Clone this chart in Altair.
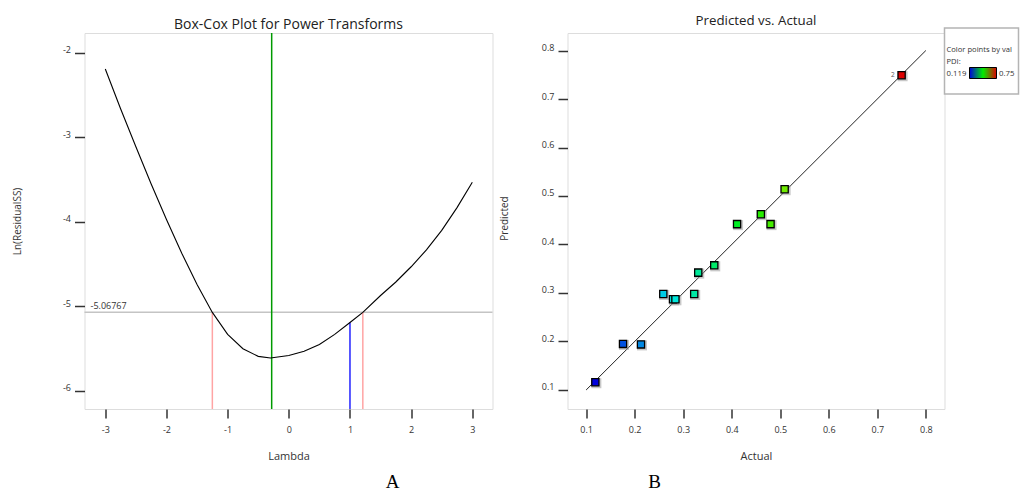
import altair as alt
import pandas as pd

FONT = "Open Sans"

# ---------- Panel A: Box-Cox ----------
lam = [-3.0, -2.75, -2.5, -2.25, -2.0, -1.75, -1.5, -1.25, -1.0, -0.75, -0.5, -0.3,
       0.0, 0.25, 0.5, 0.75, 1.0, 1.21, 1.5, 1.75, 2.0, 2.25, 2.5, 2.75, 3.0]
ln_ss = [-2.19, -2.66, -3.11, -3.55, -3.97, -4.37, -4.74, -5.07, -5.33, -5.50, -5.59, -5.61,
         -5.58, -5.53, -5.45, -5.33, -5.19, -5.07, -4.87, -4.71, -4.53, -4.33, -4.10, -3.83, -3.53]
ci_level = -5.06767
lambda_best = -0.28
ci_lambdas = [-1.25, 1.21]
lambda_current = 1.0
ln_current = -5.19
a_xdomain = [-3.34, 3.33]
a_ydomain = [-6.213, -1.764]
a_xticks = [-3, -2, -1, 0, 1, 2, 3]
a_yticks = [-6, -5, -4, -3, -2]

# ---------- Panel B: Predicted vs Actual ----------
actual = [0.119, 0.176, 0.213, 0.259, 0.279, 0.284, 0.3227, 0.331, 0.364, 0.411, 0.460, 0.480, 0.509, 0.750]
predicted = [0.116, 0.195, 0.194, 0.298, 0.287, 0.287, 0.298, 0.342, 0.357, 0.442, 0.4625, 0.442, 0.514, 0.749]
point_labels = ["", "", "", "", "", "", "", "", "", "", "", "", "", "2"]
diag = [0.1, 0.8]
b_domain_x = [0.0616, 0.8384]
b_domain_y = [0.0608, 0.8361]
b_ticks = [0.1, 0.2, 0.3, 0.4, 0.5, 0.6, 0.7, 0.8]
pdi_min, pdi_max = 0.119, 0.75
grad_colors = ["#0000dd", "#00ee00", "#dd0000"]
legend_lines = ["Color points by value of", "PDI:"]
panel_letters = ["A", "B"]
titles = ["Box-Cox Plot for Power Transforms", "Predicted vs. Actual"]

WA, HA = 408, 376
WB, HB = 377, 376

def xaxis(values, title, titleX):
    return alt.Axis(values=values, tickSize=9, tickWidth=1.5, tickColor="#333", domain=False, grid=False,
                    labelFont=FONT, labelFontSize=9, labelColor="#333", labelPadding=7,
                    labelExpr="'' + datum.value",
                    title=title, titleFont=FONT, titleFontSize=11, titleFontWeight="normal", titleColor="#333",
                    titleX=titleX, titleY=47, titleBaseline="middle", titleAlign="center")

def yaxis(values, title, titleX, titleY, ticksize):
    return alt.Axis(values=values, tickSize=ticksize, tickWidth=1.5, tickColor="#333", domain=False, grid=False,
                    labelFont=FONT, labelFontSize=9, labelColor="#333", labelPadding=4,
                    labelBaseline="alphabetic", labelExpr="'' + datum.value",
                    title=title, titleFont=FONT, titleFontSize=10, titleFontWeight="normal", titleColor="#333",
                    titleX=titleX, titleY=titleY, titleAngle=270, titleBaseline="middle", titleAlign="center")

def text_layer(values, x, y, size, font=FONT, color="#222", align="center", **kw):
    return alt.Chart(pd.DataFrame({"t": values})).mark_text(
        font=font, fontSize=size, baseline="alphabetic", align=align, color=color, **kw).encode(
        text="t:N", x=alt.value(x), y=alt.value(y))

ax_a_x = xaxis(a_xticks, "Lambda", WA / 2)
ax_a_y = yaxis(a_yticks, "Ln(ResidualSS)", -67, HA / 2, 10)
sx_a = alt.Scale(domain=a_xdomain, nice=False, zero=False)
sy_a = alt.Scale(domain=a_ydomain, nice=False, zero=False)

def XA(f):
    return alt.X(f, type="quantitative", scale=sx_a, axis=ax_a_x)

def YA(f):
    return alt.Y(f, type="quantitative", scale=sy_a, axis=ax_a_y)

curve_df = pd.DataFrame({"x": lam, "y": ln_ss})
hline_df = pd.DataFrame({"y": [ci_level], "label": [str(ci_level)]})
green_df = pd.DataFrame({"x": [lambda_best]})
pink_df = pd.DataFrame({"x": ci_lambdas, "y": [ci_level] * len(ci_lambdas), "y2": [a_ydomain[0]] * len(ci_lambdas)})
blue_df = pd.DataFrame({"x": [lambda_current], "y": [ln_current], "y2": [a_ydomain[0]]})

hline = alt.Chart(hline_df).mark_rule(color="#c4c4c4", strokeWidth=1.5).encode(y=YA("y"))
hlabel = alt.Chart(hline_df).mark_text(align="left", baseline="alphabetic", dx=0, dy=-3, font=FONT,
                                       fontSize=9, color="#333").encode(
    x=alt.value(6), y=YA("y"), text="label:N")
pink = alt.Chart(pink_df).mark_rule(color="#ffa4a4", strokeWidth=1.5).encode(x=XA("x"), y=YA("y"), y2="y2")
blue = alt.Chart(blue_df).mark_rule(color="#0000ff", strokeWidth=1.3).encode(x=XA("x"), y=YA("y"), y2="y2")
green = alt.Chart(green_df).mark_rule(color="#009a00", strokeWidth=1.5).encode(x=XA("x"))
curve = alt.Chart(curve_df).mark_line(color="black", strokeWidth=1.1).encode(x=XA("x"), y=YA("y"))
letter_a = text_layer([panel_letters[0]], 308, 455, 19, font="Liberation Serif", color="black")
title_a = text_layer([titles[0]], WA / 2, -4.5, 14)

panel_a = alt.layer(hline, pink, blue, green, curve, hlabel, letter_a, title_a).properties(width=WA, height=HA)

# ---------- Panel B ----------
ax_b_x = xaxis(b_ticks, "Actual", WB / 2)
ax_b_y = yaxis(b_ticks, "Predicted", -63, HB / 2 - 3, 9.5)
sx_b = alt.Scale(domain=b_domain_x, nice=False, zero=False)
sy_b = alt.Scale(domain=b_domain_y, nice=False, zero=False)

def XB(f):
    return alt.X(f, type="quantitative", scale=sx_b, axis=ax_b_x)

def YB(f):
    return alt.Y(f, type="quantitative", scale=sy_b, axis=ax_b_y)

pts_df = pd.DataFrame({"x": actual, "y": predicted, "label": point_labels})
diag_df = pd.DataFrame({"x": diag, "y": diag})
color_scale = alt.Scale(domain=[pdi_min, (pdi_min + pdi_max) / 2, pdi_max], range=grad_colors, interpolate="hsl")

diag_line = alt.Chart(diag_df).mark_line(color="#222", strokeWidth=1).encode(x=XB("x"), y=YB("y"))
shadow = alt.Chart(pts_df).mark_square(size=100, color="#9a9a9a", opacity=0.55, xOffset=1, yOffset=1).encode(
    x=XB("x"), y=YB("y"))
squares = alt.Chart(pts_df).mark_square(size=52, filled=True, stroke="black", strokeWidth=1.3, opacity=1).encode(
    x=XB("x"), y=YB("y"), color=alt.Color("x:Q", scale=color_scale, legend=None))
plabels = alt.Chart(pts_df).mark_text(align="right", baseline="middle", dx=-7, font=FONT, fontSize=6.5,
                                      color="#555").encode(x=XB("x"), y=YB("y"), text="label:N")

BOXW = 74
leg_box = alt.Chart(pd.DataFrame({"t": [0]})).mark_rect(fill="white", stroke="#b4b4b4", strokeWidth=1.5).encode(
    x=alt.value(WB), x2=alt.value(WB + BOXW), y=alt.value(-5), y2=alt.value(61))
leg_l1 = text_layer([legend_lines[0]], WB + 2, 18.5, 7.6, color="#333", align="left", limit=BOXW - 3, ellipsis=" ")
leg_l2 = text_layer([legend_lines[1]], WB + 2, 30.5, 7.6, color="#333", align="left")
leg_min = text_layer([str(pdi_min)], WB + 2, 42.5, 7.8, color="#333", align="left")
leg_max = text_layer([str(pdi_max)], WB + 54.5, 42.5, 7.8, color="#333", align="left")
gradient = alt.LinearGradient(gradient="linear", x1=0, x2=1, y1=0, y2=0,
                              stops=[alt.GradientStop(color=grad_colors[0], offset=0),
                                     alt.GradientStop(color=grad_colors[1], offset=0.5),
                                     alt.GradientStop(color=grad_colors[2], offset=1)])
leg_bar = alt.Chart(pd.DataFrame({"t": [0]})).mark_rect(color=gradient, stroke="black", strokeWidth=1).encode(
    x=alt.value(WB + 25), x2=alt.value(WB + 52), y=alt.value(34.5), y2=alt.value(45.5))
letter_b = text_layer([panel_letters[1]], 87, 455, 19, font="Liberation Serif", color="black")
title_b = text_layer([titles[1]], WB / 2, -8, 13.3)

panel_b = alt.layer(diag_line, shadow, squares, plabels, leg_box, leg_l1, leg_l2, leg_min, leg_max, leg_bar,
                    letter_b, title_b).properties(width=WB, height=HB)

chart = alt.hconcat(panel_a, panel_b, spacing=75, bounds="flush").properties(
    padding={"left": 3.5, "top": 5, "right": 0, "bottom": 0}
).configure_view(stroke="#222", strokeWidth=1.5).configure(background="white")

chart.save("out.html", embed_options={"renderer": "svg", "actions": False})
